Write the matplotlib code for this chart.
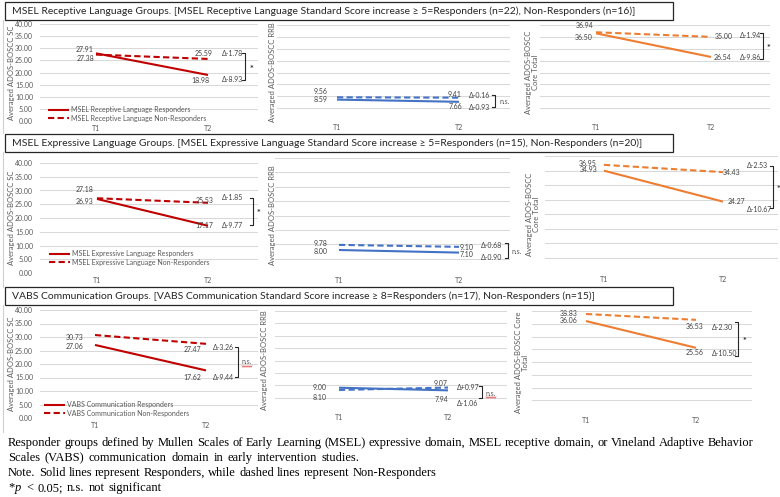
import matplotlib
matplotlib.use('Agg')
import matplotlib.pyplot as plt
import numpy as np

W, H, DPI = 780, 497, 100

# ---------------- data ----------------
time_points = ['T1', 'T2']
group_names = ['MSEL Receptive Language', 'MSEL Expressive Language', 'VABS Communication']
group_titles = [
    'MSEL Receptive Language Groups. [MSEL Receptive Language Standard Score increase \u2265 5=Responders (n=22), Non-Responders (n=16)]',
    'MSEL Expressive Language Groups. [MSEL Expressive Language Standard Score increase \u2265 5=Responders (n=15), Non-Responders (n=20)]',
    'VABS Communication Groups. [VABS Communication Standard Score increase \u2265 8=Responders (n=17), Non-Responders (n=15)]',
]
ylabels = [
    ['Averaged ADOS-BOSCC SC', 'Averaged ADOS-BOSCC RRB', 'Averaged ADOS-BOSCC\nCore Total'],
    ['Averaged ADOS-BOSCC SC', 'Averaged ADOS-BOSCC RRB', 'Averaged ADOS-BOSCC\nCore Total'],
    ['Averaged ADOS-BOSCC SC', 'Averaged ADOS-BOSCC RRB', 'Averaged ADOS-BOSCC Core\nTotal'],
]

sc_resp   = [[27.91, 18.98], [26.93, 17.17], [27.06, 17.62]]
sc_non    = [[27.38, 25.59], [27.18, 25.53], [30.73, 27.47]]
rrb_resp  = [[8.59, 7.66], [8.00, 7.10], [9.00, 7.94]]
rrb_non   = [[9.56, 9.41], [9.78, 9.10], [8.10, 9.07]]
core_resp = [[36.50, 26.54], [34.93, 24.27], [36.06, 25.56]]
core_non  = [[36.94, 35.00], [36.95, 34.43], [38.83, 36.53]]

delta_non  = [[-1.78, -0.16, -1.94], [-1.85, -0.68, -2.53], [-3.26, 0.97, -2.30]]
delta_resp = [[-8.93, -0.93, -9.86], [-9.77, -0.90, -10.67], [-9.44, -1.06, -10.50]]
significance = [['*', 'n.s.', '*'], ['*', 'n.s.', '*'], ['n.s.', 'n.s.', '*']]

yticks = [0, 5, 10, 15, 20, 25, 30, 35, 40]

footnote_lines = [
    'Responder groups defined by Mullen Scales of Early Learning (MSEL) expressive domain, MSEL receptive domain, or Vineland Adaptive Behavior',
    'Scales (VABS) communication domain in early intervention studies.',
    'Note. Solid lines represent Responders, while dashed lines represent Non-Responders',
    '*$p$ < 0.05; n.s. not significant',
]

# ---------------- layout (pixels) ----------------
COLORS = ['#C00000', '#4472C4', '#ED7D31']
GRAY = '#595959'
LAB = '#404040'

# (x_left, x_right, y_at_40, y_at_0, x_T1, x_T2)
GEOM = [
    [(40, 258, 24, 121, 96, 208), (277, 510, 25, 120, 337, 459), (540, 770, 25, 120, 596, 711)],
    [(40, 258, 163, 273, 97, 208), (275, 510, 158, 273, 339, 459), (545, 778, 156, 272, 604, 723)],
    [(40, 258, 310, 418, 95, 206), (275, 507, 311, 410, 339, 448), (532, 752, 311, 413, 586, 696)],
]
# label offsets (dx, dy up, ha) for [resp T1, non T1, resp T2, non T2]
LOFF = [
    [[(-2, 4, 'right'), (-2, -4, 'right'), (2, -6, 'right'), (5, 5, 'right')],
     [(-9, 0, 'right'), (-9, 6, 'right'), (3, -5, 'right'), (3, 3, 'right')],
     [(-3, -4, 'right'), (-3, 7, 'right'), (3, -1, 'left'), (4, 0, 'left')]],
    [[(-4, -3, 'right'), (-4, 9, 'right'), (5, 0, 'right'), (5, 2, 'right')],
     [(-11, -1, 'right'), (-11, 1, 'right'), (1, -2, 'left'), (1, -1, 'left')],
     [(-7, 1, 'right'), (-7, 1, 'right'), (5, 0, 'left'), (0, 0, 'left')]],
    [[(-12, -2, 'right'), (-12, -2, 'right'), (-5, -7, 'right'), (-5, -6, 'right')],
     [(-12, 0, 'right'), (-12, -8, 'right'), (0, -9, 'right'), (0, 4, 'right')],
     [(-8, 1, 'right'), (-8, 0, 'right'), (7, -5, 'right'), (7, -7, 'right')]],
]
# delta text (x, y_top, y_bottom), bracket (x, y0, y1), significance (x, y)
DELTA = [[(222, 54, 80), (469, 96, 107), (740, 35, 58)],
         [(222, 198, 225), (481, 245, 258), (747, 165, 209)],
         [(213, 348, 377), (457, 388, 403), (712, 327, 353)]]
BRACK = [[(245, 53, 80), (495, 95, 107), (763, 33, 59)],
         [(253, 198, 225), (508, 243, 258), (773, 166, 208)],
         [(238, 347, 377), (482, 386, 398), (738, 322, 356)]]
SIGP = [[(250, 67), (499, 101), (767, 46)],
        [(257, 211), (512, 251), (777, 187)],
        [(242, 362), (486, 393), (743, 339)]]
YLAB_X = [[12, 272, 532], [12, 272, 533], [12, 265, 522]]
LEG_POS = [(48, 114), (49, 258), (44, 409)]
TITLE_BOX_Y = [2, 134, 287]

plt.rcParams['font.family'] = ['Lato', 'DejaVu Sans']
plt.rcParams['mathtext.fontset'] = 'custom'
plt.rcParams['mathtext.it'] = 'Liberation Serif:italic'
plt.rcParams['mathtext.rm'] = 'Liberation Serif'

fig = plt.figure(figsize=(W / DPI, H / DPI), dpi=DPI)
fig.patch.set_facecolor('white')

series = [(sc_resp, sc_non), (rrb_resp, rrb_non), (core_resp, core_non)]
for r in range(3):
    for c in range(3):
        xl, xr, y40, y0, t1, t2 = GEOM[r][c]
        ax = fig.add_axes([xl / W, 1 - y0 / H, (xr - xl) / W, (y0 - y40) / H])
        ax.set_facecolor('none')
        span = t2 - t1
        ax.set_xlim((xl - t1) / span, (xr - t1) / span)
        ax.set_ylim(0, 40)
        ax.set_yticks(yticks)
        ax.set_yticklabels([f'{v:.2f}' for v in yticks])
        ax.set_xticks([0, 1])
        ax.set_xticklabels(time_points)
        ax.tick_params(length=0, labelsize=5, labelcolor=GRAY, pad=3)
        ax.tick_params(axis='y', pad=5)
        if c != 0:
            ax.tick_params(labelleft=False)
        for s in ax.spines.values():
            s.set_visible(False)
        ax.yaxis.grid(True, color='#D9D9D9', lw=0.75)
        ax.set_axisbelow(True)
        resp, non = series[c]
        col = COLORS[c]
        lr, = ax.plot([0, 1], resp[r], color=col, lw=1.5, solid_capstyle='butt')
        ln, = ax.plot([0, 1], non[r], color=col, lw=1.5, linestyle=(0, (3, 1.6)))
        pts = [(0, resp[r][0]), (0, non[r][0]), (1, resp[r][1]), (1, non[r][1])]
        for (px, py), (dx, dy, ha) in zip(pts, LOFF[r][c]):
            ax.annotate(f'{py:.2f}', (px, py), xytext=(dx, dy), textcoords='offset pixels',
                        ha=ha, va='center', fontsize=5, color=LAB)
        if c == 0:
            lx, ly = LEG_POS[r]
            leg = ax.legend([lr, ln], [f'{group_names[r]} Responders', f'{group_names[r]} Non-Responders'],
                            loc='center left', bbox_to_anchor=(lx / W, 1 - ly / H),
                            bbox_transform=fig.transFigure, frameon=False, fontsize=5,
                            handlelength=3.0, handletextpad=0.3, labelspacing=0.25,
                            borderpad=0, borderaxespad=0)
            for t in leg.get_texts():
                t.set_color(GRAY)

# canvas in pixel coordinates
cv = fig.add_axes([0, 0, 1, 1], zorder=10)
cv.set_xlim(0, W)
cv.set_ylim(H, 0)
cv.axis('off')
cv.patch.set_visible(False)

renderer = fig.canvas.get_renderer()

def text_w(t):
    return t.get_window_extent(renderer=renderer).width

# left edge borders
for (ya, yb) in [(20, 133), (152, 287), (305, 432)]:
    cv.plot([2.5, 2.5], [ya, yb], color='#D0D0D0', lw=0.8)

# titles
title_texts = []
for r in range(3):
    yb = TITLE_BOX_Y[r]
    cv.add_patch(plt.Rectangle((5, yb), 668, 18, facecolor='white', edgecolor='#262626', lw=0.9))
    t = cv.text(12, yb + 9.5, group_titles[r], fontsize=8, color='#262626', va='center', ha='left')
    title_texts.append(t)
w0 = text_w(title_texts[0])
fs_title = 8 * (638 - 12) / w0
for t in title_texts:
    t.set_fontsize(fs_title)

# y labels
for r in range(3):
    for c in range(3):
        xl, xr, y40, y0, t1, t2 = GEOM[r][c]
        cv.text(YLAB_X[r][c], (y40 + y0) / 2, ylabels[r][c], rotation=90, ha='center', va='center',
                fontsize=5.5, color=GRAY, multialignment='center', linespacing=1.1)

# deltas, brackets, significance
for r in range(3):
    for c in range(3):
        dxp, dyt, dyb = DELTA[r][c]
        cv.text(dxp, dyt, f'\u0394{delta_non[r][c]:+.2f}', fontsize=5, color=LAB, va='center', ha='left')
        cv.text(dxp, dyb, f'\u0394{delta_resp[r][c]:+.2f}', fontsize=5, color=LAB, va='center', ha='left')
        bx, b0, b1 = BRACK[r][c]
        cv.plot([bx - 3, bx, bx, bx - 3], [b0, b0, b1, b1], color='#262626', lw=0.8)
        sx, sy = SIGP[r][c]
        s = significance[r][c]
        if s == '*':
            cv.text(sx, sy + 2.5, s, fontsize=6.5, color='#262626', va='center', ha='left', fontweight='bold')
        else:
            st = cv.text(sx, sy, s, fontsize=5, color=GRAY, va='center', ha='left')
            if r == 2:
                wv = text_w(st)
                xs = np.arange(0, wv + 0.1, 1.0)
                ys = sy + 4.5 + 0.8 * ((np.arange(len(xs)) % 2) * 2 - 1)
                cv.plot(sx + xs, ys, color='#E05050', lw=0.5)

# footnote (justified words)
SERIF = ['Liberation Serif', 'DejaVu Serif']
FS = 9.0
line_y = [443, 458, 473, 488]
line_end = [738, 360, 430, None]
for txt, yy, xe in zip(footnote_lines, line_y, line_end):
    words = txt.split(' ')
    ts = [cv.text(0, yy, w, fontsize=FS, family=SERIF, color='black', va='center', ha='left') for w in words]
    ws = [text_w(t) for t in ts]
    probe_a = cv.text(0, 0, 'x x', fontsize=FS, family=SERIF)
    probe_b = cv.text(0, 0, 'xx', fontsize=FS, family=SERIF)
    nat = text_w(probe_a) - text_w(probe_b)
    probe_a.remove(); probe_b.remove()
    x0 = 8
    if xe is not None and len(words) > 1:
        gap = max(nat, (xe - x0 - sum(ws)) / (len(words) - 1))
    else:
        gap = nat * 1.3
    x = x0
    for t, w in zip(ts, ws):
        t.set_x(x)
        x += w + gap

fig.savefig('out.png', dpi=DPI, facecolor='white')
